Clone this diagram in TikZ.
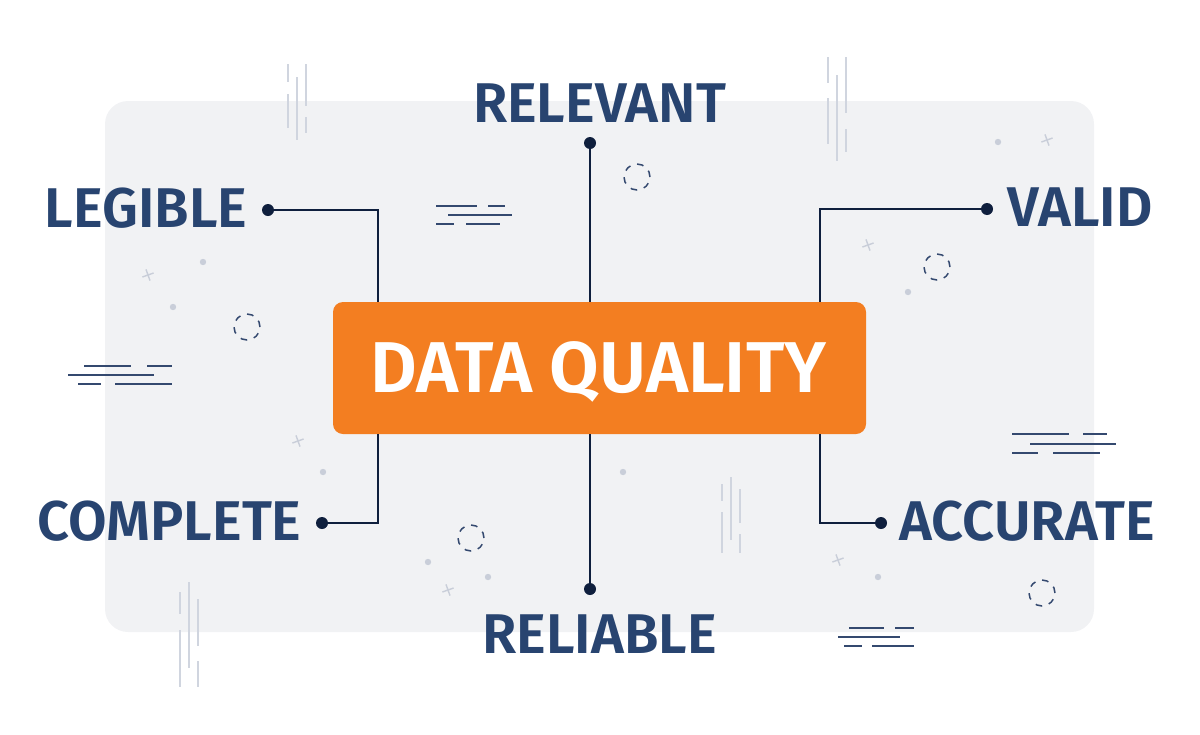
\documentclass[tikz,border=0pt]{standalone}
\usepackage{fontspec}
\setmainfont{Fira Sans}[UprightFont=* SemiBold]
\definecolor{panel}{HTML}{F1F2F4}
\definecolor{orange}{HTML}{F37E21}
\definecolor{labelblue}{HTML}{284470}
\definecolor{navy}{HTML}{0F1F3D}
\definecolor{navyline}{HTML}{34496F}
\definecolor{lightline}{HTML}{D0D5DF}
\definecolor{graydot}{HTML}{C9CED9}
\begin{document}
\begin{tikzpicture}[x=0.5pt,y=-0.5pt,
  lbl/.style={text=labelblue,font=\fontsize{28}{30}\selectfont,inner sep=0pt,anchor=base},
  dqtext/.style={text=white,font=\fontsize{36}{40}\selectfont,inner sep=0pt,anchor=base},
  dqbox/.style={fill=orange,rounded corners=5pt,minimum width=266.5pt,minimum height=66pt,inner sep=0pt},
  dotn/.style={circle,fill=navy,inner sep=0pt,minimum size=6pt},
  conn/.style={draw=navy,line width=1pt},
  vdeco/.style={draw=lightline,line width=0.8pt},
  hdeco/.style={draw=navyline,line width=0.8pt},
  dcirc/.style={draw=navyline,line width=0.75pt,dash pattern=on 3.3pt off 3.5pt},
  crossdeco/.style={draw=graydot,line width=0.7pt}]
\useasboundingbox (0,0) rectangle (1200,734);
% panel
\fill[panel,rounded corners=11.5pt] (105,101) rectangle (1094,632);

% decorative vertical light lines
\foreach \x/\a/\b in {288/64/82,288/94/128,297/77/140,306/64/106,306/117/133,
  828/57/83,828/98/144,837/75/161,846/57/113,846/129/152,
  180/592/614,180/630/687,189/582/668,198/599/646,198/661/687,
  722/484/501,722/512/553,731/477/540,740/489/523,740/534/553}
  \draw[vdeco] (\x,\a) -- (\x,\b);

% decorative horizontal lines
\foreach \y/\a/\b in {366/84/131,366/147/172,375/68/154,384/78/101,384/115/172,
  206/436/477,206/488/505,215/448/512,224/436/454,224/466/500,
  434/1012/1069,434/1083/1107,444/1030/1116,453/1012/1038,453/1053/1100,
  628/849/884,628/895/914,637/838/900,646/844/862,646/872/914}
  \draw[hdeco] (\a,\y) -- (\b,\y);

% dashed circles
\foreach \x/\y in {247/327,637/177,937/267,471/538,1042/593}
  \draw[dcirc] (\x,\y) circle[radius=6.5pt];

% gray dots
\foreach \x/\y in {203/262,173/307,998/142,908/292,323/472,623/472,428/562,488/577,878/577}
  \fill[graydot] (\x,\y) circle[radius=1.6pt];

% crosses
\foreach \x/\y in {148/275,1047/140,868/245,298/441,448/590,838/560}
  \draw[crossdeco] (\x,\y) ++(-5.6,2) -- ++(11.2,-4) (\x,\y) ++(-2,-5.6) -- ++(4,11.2);

% central box
\node[dqbox] (dq) at (599.5,368) {};
\node[dqtext] (dqt) at (598.5,392) {DATA QUALITY};

% junction coordinates
\coordinate (jleg) at (378,302);
\coordinate (jrel) at (590,302);
\coordinate (jval) at (820,302);
\coordinate (jcom) at (378,434);
\coordinate (jrlb) at (590,434);
\coordinate (jacc) at (820,434);

% dots
\node[dotn] (dleg) at (268,210) {};
\node[dotn] (drel) at (590,143) {};
\node[dotn] (dval) at (987,209) {};
\node[dotn] (dcom) at (322,523) {};
\node[dotn] (dacc) at (881,523) {};
\node[dotn] (drlb) at (590,589) {};

% connectors
\draw[conn] (dleg.center) -| (jleg);
\draw[conn] (drel.center) -- (jrel);
\draw[conn] (dval.center) -| (jval);
\draw[conn] (dcom.center) -| (jcom);
\draw[conn] (dacc.center) -| (jacc);
\draw[conn] (drlb.center) -- (jrlb);

% labels
\node[lbl] (legible) at (146,227) {LEGIBLE};
\node[lbl] (relevant) at (599.5,122) {RELEVANT};
\node[lbl] (valid) at (1080,226) {VALID};
\node[lbl] (complete) at (169.5,540) {COMPLETE};
\node[lbl] (accurate) at (1027,540) {ACCURATE};
\node[lbl] (reliable) at (599.5,653) {RELIABLE};
\end{tikzpicture}
\end{document}
